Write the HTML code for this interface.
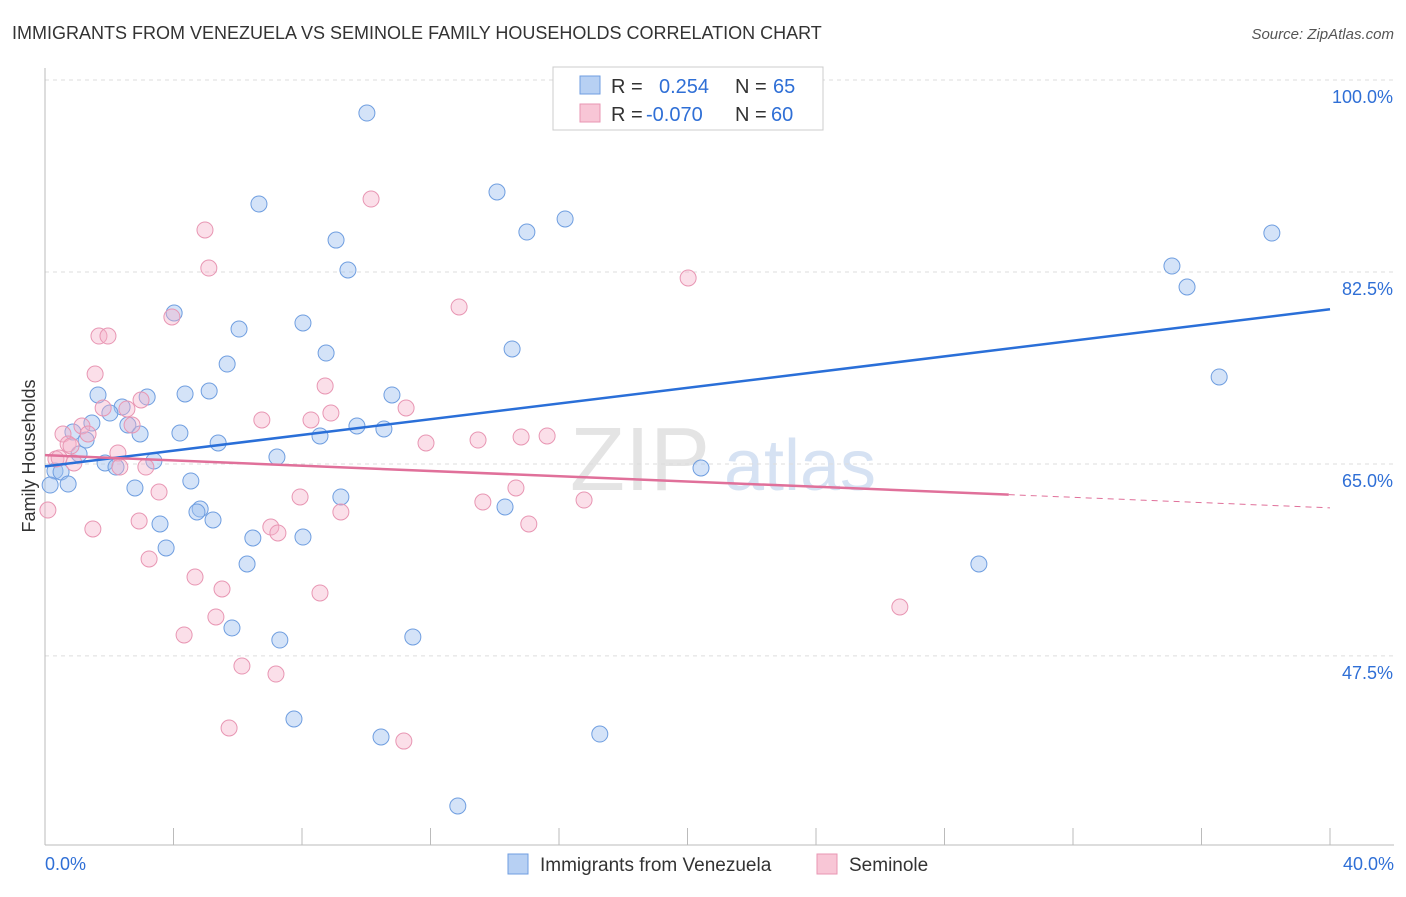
<!DOCTYPE html>
<html><head><meta charset="utf-8"><style>
body{margin:0;background:#fff;font-family:"Liberation Sans",sans-serif;}
svg text{font-family:"Liberation Sans",sans-serif;}
</style></head><body>
<svg id="c" width="1406" height="892">
<text x="12" y="39" font-size="18" fill="#333">IMMIGRANTS FROM VENEZUELA VS SEMINOLE FAMILY HOUSEHOLDS CORRELATION CHART</text>
<text x="1394" y="39" font-size="15" fill="#555" text-anchor="end" font-style="italic">Source: ZipAtlas.com</text>
<text x="640" y="490" font-size="90" fill="#e4e4e4" font-family="Liberation Serif" text-anchor="middle">ZIP</text>
<text x="800" y="490" font-size="72" fill="#d6e2f3" text-anchor="middle">atlas</text>
<g id="grid"></g><g id="axes"></g><g id="pts"></g><g id="lines"></g>
<text x="35" y="456" font-size="18" fill="#333" text-anchor="middle" transform="rotate(-90 35 456)">Family Households</text>
<g>
<rect x="553" y="67" width="270" height="63" fill="#fff" stroke="#ccc"/>
<rect x="580" y="76" width="20" height="18" fill="#b7d0f3" stroke="#6f9ee0"/>
<rect x="580" y="104" width="20" height="18" fill="#f8c6d6" stroke="#e896b3"/>
<text x="611" y="93" font-size="20" fill="#333">R =</text>
<text x="659" y="93" font-size="20" fill="#2f6fd6">0.254</text>
<text x="735" y="93" font-size="20" fill="#333">N =</text>
<text x="773" y="93" font-size="20" fill="#2f6fd6">65</text>
<text x="611" y="121" font-size="20" fill="#333">R =</text>
<text x="646" y="121" font-size="20" fill="#2f6fd6">-0.070</text>
<text x="735" y="121" font-size="20" fill="#333">N =</text>
<text x="771" y="121" font-size="20" fill="#2f6fd6">60</text>
</g>
<g>
<rect x="508" y="854" width="20" height="20" fill="#b7d0f3" stroke="#6f9ee0"/>
<text x="540" y="871" font-size="19" fill="#333">Immigrants from Venezuela</text>
<rect x="817" y="854" width="20" height="20" fill="#f8c6d6" stroke="#e896b3"/>
<text x="849" y="871" font-size="19" fill="#333">Seminole</text>
</g>
</svg>
<script>
const yTicks=[100,82.5,65,47.5];
const xTickLabels=["0.0%","40.0%"];
const blueX=[21.95,10.02,14.07,16.19,15.0,9.06,6.66,9.43,4.02,8.03,6.04,8.75,14.54,5.67,35.08,35.55,38.19,36.55,1.65,3.18,4.36,5.11,10.8,2.4,2.02,1.46,2.58,2.96,4.2,5.39,8.56,9.71,10.55,1.06,1.28,0.87,1.87,2.21,3.39,7.22,0.31,0.5,0.72,2.8,4.54,9.21,4.83,4.73,5.23,14.32,3.58,6.47,8.03,3.77,6.29,20.42,29.07,5.82,7.31,11.45,7.75,10.46,17.27,12.85,0.16];
const blueY=[100,96.99,89.79,87.33,86.14,85.41,88.7,82.68,78.76,77.85,77.3,75.11,75.48,74.11,83.04,81.13,86.05,72.93,71.29,71.1,71.38,71.65,71.29,70.19,69.64,68.73,68.55,67.73,67.82,66.91,67.55,68.46,68.19,65.91,67.18,67.91,65.09,64.72,65.27,65.63,64.36,64.27,63.17,62.81,63.45,61.99,60.89,60.62,59.89,61.08,59.53,58.25,58.34,57.34,55.88,64.63,55.88,50.05,48.95,49.23,41.75,40.11,40.38,33.82,63.08];
const pinkX=[10.15,4.98,5.1,12.89,20.02,3.95,1.68,1.96,1.56,2.99,1.81,2.55,2.71,6.75,8.28,8.72,8.9,11.24,11.86,13.48,14.82,15.63,0.56,0.72,1.15,1.34,0.34,0.44,0.9,2.27,2.33,3.14,3.55,1.49,2.93,3.24,7.03,7.25,7.94,9.21,13.63,14.66,15.06,16.78,0.09,4.67,5.51,5.32,8.56,4.33,6.13,7.19,5.73,11.17,26.61,0.81];
const pinkY=[89.15,86.33,82.86,79.31,81.95,78.4,76.66,76.66,73.2,70.83,70.1,70.01,68.55,69.01,69.01,72.11,69.64,70.1,66.91,67.18,67.46,67.55,67.73,66.82,68.46,67.73,65.45,65.54,65.09,66.0,64.72,64.72,62.44,59.07,59.8,56.34,59.25,58.71,61.99,60.62,61.53,62.81,59.53,61.71,60.8,54.69,53.6,51.05,53.24,49.41,46.58,45.85,40.93,39.74,51.96,66.64];
const blueLine=[64.78,79.1];
const pinkLine=[65.8,61.0];
const pinkSolidEnd=30.0;
const X=v=>45+v/40*1285, Y=v=>80+(100-v)*10.97;
const NS="http://www.w3.org/2000/svg";
function mk(t,a,parent){const e=document.createElementNS(NS,t);for(const k in a)e.setAttribute(k,a[k]);document.getElementById(parent).appendChild(e);return e;}
yTicks.forEach(t=>{
 const l=mk('line',{x1:45,x2:1394,y1:Y(t),y2:Y(t),stroke:'#ddd','stroke-dasharray':'4,4'},'grid');
 
 
 const tx=mk('text',{x:1393,y:Y(t)+23,'font-size':18,fill:'#2f6fd6','text-anchor':'end'},'grid');
 tx.textContent=t.toFixed(1)+'%';
 
 
});
mk('line',{x1:45,x2:45,y1:68,y2:845,stroke:'#bbb'},'axes');
const xa=mk('line',{x1:45,x2:1394,y1:845,y2:845,stroke:'#bbb'},'axes');


for(let i=0;i<=10;i++){const tk=mk('line',{x1:X(i*4),x2:X(i*4),y1:828,y2:845,stroke:'#bbb'},'axes');
 
 }
[[0,'start',45],[40,'end',1394]].forEach((d,i)=>{const t=mk('text',{x:d[2],y:870,'font-size':18,fill:'#2f6fd6','text-anchor':d[1]},'axes');t.textContent=xTickLabels[i];
 
 });
blueX.forEach((x,i)=>{const c=mk('circle',{cx:X(x),cy:Y(blueY[i]),r:8,fill:'rgba(160,192,240,0.45)',stroke:'#6f9ee0','stroke-width':1},'pts');
 
 });
pinkX.forEach((x,i)=>{const c=mk('circle',{cx:X(x),cy:Y(pinkY[i]),r:8,fill:'rgba(245,175,200,0.4)',stroke:'#e896b3','stroke-width':1},'pts');
 
 });
const bl=mk('line',{x1:X(0),y1:Y(blueLine[0]),x2:X(40),y2:Y(blueLine[1]),stroke:'#2a6fd8','stroke-width':2.5},'lines');


const pm=pinkLine[0]+(pinkLine[1]-pinkLine[0])*pinkSolidEnd/40;
const pl=mk('line',{x1:X(0),y1:Y(pinkLine[0]),x2:X(pinkSolidEnd),y2:Y(pm),stroke:'#e0709a','stroke-width':2.5},'lines');


const pd=mk('line',{x1:X(pinkSolidEnd),y1:Y(pm),x2:X(40),y2:Y(pinkLine[1]),stroke:'#e0709a','stroke-width':1,'stroke-dasharray':'6,5'},'lines');


</script>
</body></html>
